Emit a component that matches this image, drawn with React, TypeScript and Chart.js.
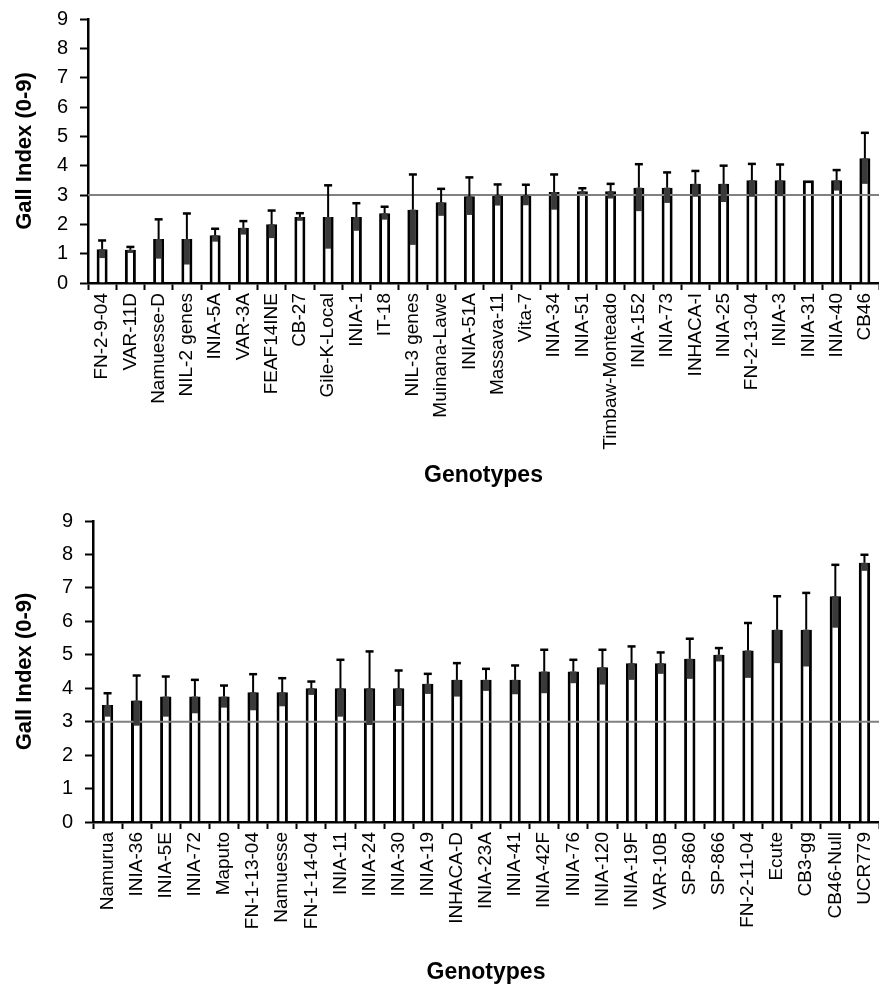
import React, { useEffect, useRef } from "react";
import { Chart, registerables } from "chart.js";

Chart.register(...registerables);

const topLabels = ["FN-2-9-04", "VAR-11D", "Namuesse-D", "NIL-2 genes", "INIA-5A", "VAR-3A", "FEAF14INE", "CB-27", "Gile-K-Local", "INIA-1", "IT-18", "NIL-3 genes", "Muinana-Lawe", "INIA-51A", "Massava-11", "Vita-7", "INIA-34", "INIA-51", "Timbaw-Monteado", "INIA-152", "INIA-73", "INHACA-I", "INIA-25", "FN-2-13-04", "INIA-3", "INIA-31", "INIA-40", "CB46"];
const topMeans = [1.15, 1.13, 1.5, 1.5, 1.63, 1.88, 2.0, 2.25, 2.25, 2.25, 2.38, 2.5, 2.75, 2.96, 3.0, 3.0, 3.1, 3.13, 3.13, 3.25, 3.25, 3.38, 3.38, 3.5, 3.5, 3.5, 3.5, 4.25];
const topErr = [0.3, 0.1, 0.67, 0.87, 0.22, 0.23, 0.47, 0.13, 1.08, 0.47, 0.22, 1.2, 0.46, 0.64, 0.36, 0.35, 0.6, 0.1, 0.25, 0.8, 0.52, 0.44, 0.62, 0.56, 0.54, 0, 0.35, 0.87];

const bottomLabels = ["Namurua", "INIA-36", "INIA-5E", "INIA-72", "Maputo", "FN-1-13-04", "Namuesse", "FN-1-14-04", "INIA-11", "INIA-24", "INIA-30", "INIA-19", "INHACA-D", "INIA-23A", "INIA-41", "INIA-42F", "INIA-76", "INIA-120", "INIA-19F", "VAR-10B", "SP-860", "SP-866", "FN-2-11-04", "Ecute", "CB3-gg", "CB46-Null", "UCR779"];
const bottomMeans = [3.5, 3.63, 3.75, 3.75, 3.75, 3.88, 3.88, 4.0, 4.0, 4.0, 4.0, 4.13, 4.25, 4.25, 4.25, 4.5, 4.5, 4.63, 4.75, 4.75, 4.88, 5.0, 5.13, 5.75, 5.75, 6.75, 7.75];
const bottomErr = [0.35, 0.75, 0.6, 0.5, 0.33, 0.54, 0.42, 0.2, 0.85, 1.1, 0.53, 0.3, 0.5, 0.33, 0.43, 0.65, 0.35, 0.52, 0.5, 0.32, 0.6, 0.2, 0.82, 1.0, 1.1, 0.94, 0.24];

const yTicks = [0, 1, 2, 3, 4, 5, 6, 7, 8, 9];
const threshold = 3;
const yTitle = "Gall Index (0-9)";
const xTitle = "Genotypes";

const FONT = "'Liberation Sans', Arial, sans-serif";

type Props = {
  labels: string[];
  means: number[];
  errs: number[];
  width: number;
  height: number;
  top: number;
  plotTop: number;
  plotBottom: number;
  yWidth: number;
};

function GallChart({ labels, means, errs, width, height, top, plotTop, plotBottom, yWidth }: Props) {
  const ref = useRef<HTMLCanvasElement | null>(null);
  useEffect(() => {
    if (!ref.current) return;
    const overlay = {
      id: "overlay",
      afterDatasetsDraw(chart: any) {
        const ctx = chart.ctx;
        const y = chart.scales.y;
        const area = chart.chartArea;
        ctx.save();
        const ly = y.getPixelForValue(threshold);
        ctx.strokeStyle = "#808080";
        ctx.lineWidth = 2;
        ctx.beginPath();
        ctx.moveTo(area.left, ly);
        ctx.lineTo(area.right, ly);
        ctx.stroke();
        const meta = chart.getDatasetMeta(0);
        meta.data.forEach((el: any, i: number) => {
          const sd = errs[i];
          if (!sd) return;
          const x = el.x;
          const w = el.width;
          const yTop = y.getPixelForValue(means[i]);
          const yHi = y.getPixelForValue(means[i] + sd);
          const yLo = y.getPixelForValue(Math.max(0, means[i] - sd));
          ctx.fillStyle = "#3a3a3a";
          ctx.fillRect(x - (w - 5) / 2, yTop, w - 5, yLo - yTop);
          ctx.strokeStyle = "#000";
          ctx.lineWidth = 2;
          ctx.beginPath();
          ctx.moveTo(x, yTop);
          ctx.lineTo(x, yHi);
          ctx.stroke();
          ctx.lineWidth = 2.5;
          ctx.beginPath();
          ctx.moveTo(x - 4, yHi);
          ctx.lineTo(x + 4, yHi);
          ctx.stroke();
        });
        ctx.restore();
      },
    };
    const chart = new Chart(ref.current, {
      type: "bar",
      data: {
        labels,
        datasets: [
          {
            data: means,
            backgroundColor: "#ffffff",
            borderColor: "#000000",
            borderWidth: 3,
            categoryPercentage: 1,
            barPercentage: 0.39,
          },
        ],
      },
      options: {
        animation: false,
        responsive: false,
        events: [],
        layout: { padding: { top: plotTop, right: 0, bottom: 0, left: 0 } },
        plugins: { legend: { display: false }, tooltip: { enabled: false } },
        scales: {
          x: {
            grid: { drawOnChartArea: false, drawTicks: true, tickLength: 7, tickColor: "#000", tickWidth: 2, offset: true },
            border: { color: "#000", width: 2.5 },
            ticks: {
              color: "#000",
              font: { family: FONT, size: 19 },
              minRotation: 90,
              maxRotation: 90,
              autoSkip: false,
              padding: 3,
            },
            title: {
              display: true,
              text: xTitle,
              color: "#000",
              font: { family: FONT, size: 23, weight: "bold" },
              padding: { top: 0, bottom: 1 },
            },
            afterFit(scale: any) {
              scale.height = height - plotBottom;
              scale.paddingLeft = 0;
              scale.paddingRight = 0;
            },
          },
          y: {
            min: 0,
            max: 9,
            afterBuildTicks(scale: any) {
              scale.ticks = yTicks.map((v) => ({ value: v }));
            },
            grid: { drawOnChartArea: false, drawTicks: true, tickLength: 8, tickColor: "#000", tickWidth: 2 },
            border: { color: "#000", width: 2.5 },
            ticks: { color: "#000", font: { family: FONT, size: 20 }, padding: 12 },
            title: {
              display: true,
              text: yTitle,
              color: "#000",
              font: { family: FONT, size: 22, weight: "bold" },
              padding: { top: 12, bottom: 0 },
            },
            afterFit(scale: any) {
              scale.width = yWidth;
              scale.paddingTop = 0;
              scale.paddingBottom = 0;
            },
          },
        },
      },
      plugins: [overlay],
    } as any);
    return () => chart.destroy();
  }, []);
  return (
    <canvas
      ref={ref}
      width={width}
      height={height}
      style={{ position: "absolute", left: 0, top, width, height }}
    />
  );
}

export default function App() {
  return (
    <div style={{ position: "absolute", left: 0, top: 0, width: 879, height: 987, background: "#fff" }}>
      <GallChart labels={topLabels} means={topMeans} errs={topErr} width={879} height={490} top={0} plotTop={19} plotBottom={283} yWidth={88} />
      <GallChart labels={bottomLabels} means={bottomMeans} errs={bottomErr} width={879} height={497} top={490} plotTop={31} plotBottom={332} yWidth={93} />
    </div>
  );
}
